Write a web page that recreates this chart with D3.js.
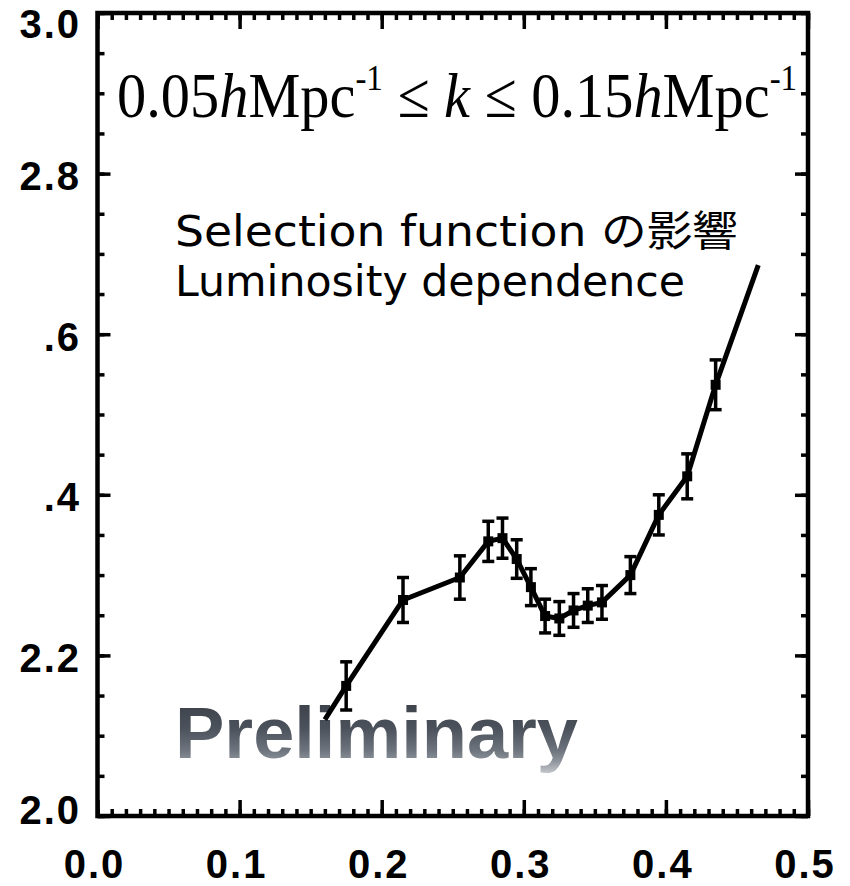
<!DOCTYPE html>
<html>
<head>
<meta charset="utf-8">
<script src="https://cdn.jsdelivr.net/npm/d3@7/dist/d3.min.js"></script>
<style>
  html, body { margin: 0; padding: 0; background: #fff; }
  svg { display: block; }
</style>
</head>
<body>
<div id="chart"></div>
<script>
// Measured bias ratio vs. redshift, binned points with 1-sigma errors
const binZ     = [0.175, 0.215, 0.255, 0.275, 0.285, 0.295, 0.305, 0.315, 0.325, 0.335, 0.345, 0.355, 0.375, 0.395, 0.415, 0.435];
const binValue = [2.162, 2.269, 2.297, 2.342, 2.346, 2.320, 2.285, 2.249, 2.246, 2.256, 2.262, 2.266, 2.300, 2.375, 2.423, 2.537];
const binError = [0.030, 0.028, 0.027, 0.025, 0.025, 0.024, 0.023, 0.021, 0.021, 0.021, 0.021, 0.021, 0.023, 0.025, 0.028, 0.031];

// Connecting curve, extended slightly past the first and last bins
const curveZ     = [0.160, 0.175, 0.215, 0.255, 0.275, 0.285, 0.295, 0.305, 0.315, 0.325, 0.335, 0.345, 0.355, 0.375, 0.395, 0.415, 0.435, 0.465];
const curveValue = [2.120, 2.162, 2.269, 2.297, 2.342, 2.346, 2.320, 2.285, 2.249, 2.246, 2.256, 2.262, 2.266, 2.300, 2.375, 2.423, 2.537, 2.686];

// Axis ticks and their printed labels
const xTicks      = [0.0, 0.1, 0.2, 0.3, 0.4, 0.5];
const xTickLabels = ["0.0", "0.1", "0.2", "0.3", "0.4", "0.5"];
const yTicks      = [2.0, 2.2, 2.4, 2.6, 2.8, 3.0];
const yTickLabels = ["2.0", "2.2", ".4", ".6", "2.8", "3.0"];

const W = 850, H = 886;
const frame = { left: 97.5, right: 808, top: 13, bottom: 816 };

const svg = d3.select("#chart").append("svg")
  .attr("width", W).attr("height", H);

const x = d3.scaleLinear().domain([0, 0.5]).range([frame.left, frame.right]);
const y = d3.scaleLinear().domain([2.0, 3.0]).range([frame.bottom, frame.top]);

// Gradient for the watermark text
const defs = svg.append("defs");
const grad = defs.append("linearGradient")
  .attr("id", "prelimFill").attr("x1", 0).attr("y1", 0).attr("x2", 0).attr("y2", 1);
grad.append("stop").attr("offset", "0%").attr("stop-color", "#363b44");
grad.append("stop").attr("offset", "45%").attr("stop-color", "#4c525b");
grad.append("stop").attr("offset", "72%").attr("stop-color", "#6e747d");
grad.append("stop").attr("offset", "84%").attr("stop-color", "#8a9098");
grad.append("stop").attr("offset", "100%").attr("stop-color", "#c3c6cb");

// Axes: majors every 0.1 / 0.2, minors every 0.01 / 0.05
const xMinor = d3.range(0, 0.5001, 0.01);
const yMinor = d3.range(2.0, 3.0001, 0.05);
const axisFont = "'Liberation Sans', Arial, sans-serif";

svg.append("g")
  .attr("transform", `translate(0,${frame.bottom})`)
  .call(d3.axisBottom(x).tickValues(xMinor).tickSize(-7).tickFormat(""));
svg.append("g")
  .attr("transform", `translate(0,${frame.bottom})`)
  .call(d3.axisBottom(x).tickValues(xTicks).tickSize(-16).tickFormat(""));
svg.append("g")
  .attr("transform", `translate(0,${frame.top})`)
  .call(d3.axisTop(x).tickValues(xMinor).tickSize(-7).tickFormat(""));
svg.append("g")
  .attr("transform", `translate(0,${frame.top})`)
  .call(d3.axisTop(x).tickValues(xTicks).tickSize(-16).tickFormat(""));

svg.append("g")
  .attr("transform", `translate(${frame.left},0)`)
  .call(d3.axisLeft(y).tickValues(yMinor).tickSize(-7).tickFormat(""));
svg.append("g")
  .attr("transform", `translate(${frame.left},0)`)
  .call(d3.axisLeft(y).tickValues(yTicks).tickSize(-13).tickFormat(""));
svg.append("g")
  .attr("transform", `translate(${frame.right},0)`)
  .call(d3.axisRight(y).tickValues(yMinor).tickSize(-7).tickFormat(""));
svg.append("g")
  .attr("transform", `translate(${frame.right},0)`)
  .call(d3.axisRight(y).tickValues(yTicks).tickSize(-13).tickFormat(""));

svg.selectAll(".tick line").attr("stroke", "#000").attr("stroke-width", 3.5);
svg.selectAll(".domain").remove();

// Frame
svg.append("rect")
  .attr("x", frame.left).attr("y", frame.top)
  .attr("width", frame.right - frame.left).attr("height", frame.bottom - frame.top)
  .attr("fill", "none").attr("stroke", "#000").attr("stroke-width", 4.5);

// Tick labels
svg.append("g").selectAll("text")
  .data(xTicks)
  .join("text")
  .attr("x", d => x(d) - 3)
  .attr("y", 878)
  .attr("text-anchor", "middle")
  .attr("font-family", axisFont)
  .attr("font-weight", "bold")
  .attr("font-size", 40)
  .attr("letter-spacing", 2)
  .text((d, i) => xTickLabels[i]);

svg.append("g").selectAll("text")
  .data(yTicks)
  .join("text")
  .attr("x", 81)
  .attr("y", d => Math.max(24, Math.min(810, y(d) + 2)))
  .attr("dy", "0.36em")
  .attr("text-anchor", "end")
  .attr("font-family", axisFont)
  .attr("font-weight", "bold")
  .attr("font-size", 40)
  .attr("letter-spacing", 2)
  .text((d, i) => yTickLabels[i]);

// Wavenumber range
const title = svg.append("text")
  .attr("x", 117).attr("y", 117)
  .attr("font-family", "'Liberation Serif', 'Times New Roman', serif")
  .attr("font-size", 64)
  .attr("textLength", 680).attr("lengthAdjust", "spacingAndGlyphs")
  .attr("fill", "#000");
title.append("tspan").text("0.05");
title.append("tspan").attr("font-style", "italic").text("h");
title.append("tspan").text("Mpc");
title.append("tspan").attr("font-size", 36).attr("dy", -27).text("-1");
title.append("tspan").attr("dy", 27).text(" \u2264 ");
title.append("tspan").attr("font-style", "italic").text("k");
title.append("tspan").text(" \u2264 0.15");
title.append("tspan").attr("font-style", "italic").text("h");
title.append("tspan").text("Mpc");
title.append("tspan").attr("font-size", 36).attr("dy", -27).text("-1");

// Annotation
const noteFont = "'DejaVu Sans', 'Noto Sans CJK JP', sans-serif";
const note1 = svg.append("text")
  .attr("x", 175).attr("y", 246)
  .attr("font-family", noteFont)
  .attr("font-size", 42)
  .attr("textLength", 563).attr("lengthAdjust", "spacingAndGlyphs");
note1.append("tspan").text("Selection function ");
note1.append("tspan").attr("font-family", "'Noto Sans CJK JP', sans-serif").text("の影響");

svg.append("text")
  .attr("x", 175).attr("y", 296)
  .attr("font-family", noteFont)
  .attr("font-size", 42)
  .attr("textLength", 510).attr("lengthAdjust", "spacingAndGlyphs")
  .text("Luminosity dependence");

// Watermark
svg.append("text")
  .attr("x", 175).attr("y", 758)
  .attr("font-family", "'Liberation Sans', Arial, sans-serif")
  .attr("font-weight", "bold")
  .attr("font-size", 73)
  .attr("textLength", 403).attr("lengthAdjust", "spacingAndGlyphs")
  .attr("fill", "url(#prelimFill)")
  .text("Preliminary");

// Curve
const line = d3.line().x(d => x(d[0])).y(d => y(d[1]));
svg.append("path")
  .datum(curveZ.map((z, i) => [z, curveValue[i]]))
  .attr("d", line)
  .attr("fill", "none")
  .attr("stroke", "#000")
  .attr("stroke-width", 5)
  .attr("stroke-linejoin", "round");

// Error bars and markers
const pts = binZ.map((z, i) => ({ z, v: binValue[i], e: binError[i] }));
const eb = svg.append("g").attr("stroke", "#000").attr("stroke-width", 3.5);
eb.selectAll("line.bar").data(pts).join("line").attr("class", "bar")
  .attr("x1", d => x(d.z)).attr("x2", d => x(d.z))
  .attr("y1", d => y(d.v - d.e)).attr("y2", d => y(d.v + d.e));
eb.selectAll("line.capHi").data(pts).join("line").attr("class", "capHi")
  .attr("x1", d => x(d.z) - 6).attr("x2", d => x(d.z) + 6)
  .attr("y1", d => y(d.v + d.e)).attr("y2", d => y(d.v + d.e));
eb.selectAll("line.capLo").data(pts).join("line").attr("class", "capLo")
  .attr("x1", d => x(d.z) - 6).attr("x2", d => x(d.z) + 6)
  .attr("y1", d => y(d.v - d.e)).attr("y2", d => y(d.v - d.e));

svg.append("g").selectAll("rect").data(pts).join("rect")
  .attr("x", d => x(d.z) - 5).attr("y", d => y(d.v) - 5)
  .attr("width", 10).attr("height", 10)
  .attr("fill", "#000");
</script>
</body>
</html>
